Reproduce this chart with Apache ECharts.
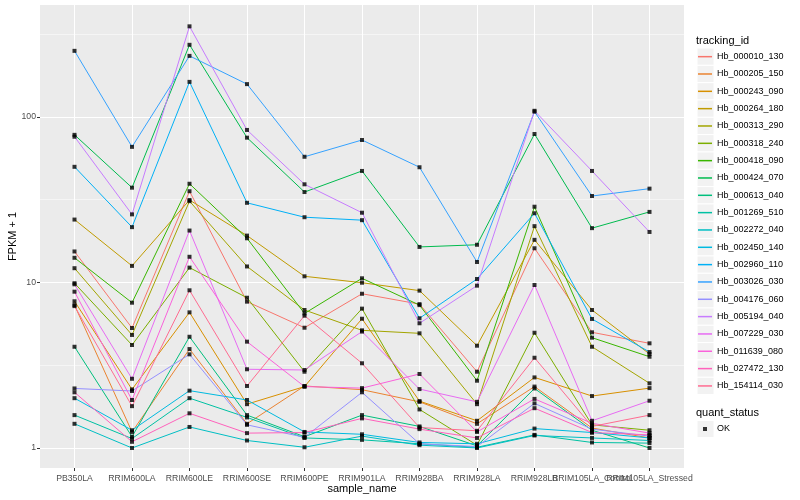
<!DOCTYPE html>
<html>
<head>
<meta charset="utf-8">
<script src="https://cdn.jsdelivr.net/npm/echarts@6/dist/echarts.min.js"></script>
<style>
html,body{margin:0;padding:0;background:#fff;}
#chart{width:800px;height:500px;}
</style>
</head>
<body>
<div id="chart"></div>
<script>
// ---- data ----
const categories = ['PB350LA','RRIM600LA','RRIM600LE','RRIM600SE','RRIM600PE','RRIM901LA','RRIM928BA','RRIM928LA','RRIM928LB','RRIM105LA_Control','RRIM105LA_Stressed'];

const Hb_000010_130 = [15.4, 5.31, 35.6, 7.66, 5.33, 8.55, 7.4, 2.89, 16.1, 5.0, 4.29];
const Hb_000205_150 = [7.3, 1.25, 3.96, 1.40, 2.37, 2.25, 1.90, 1.40, 2.35, 1.32, 1.15];
const Hb_000243_090 = [7.7, 2.26, 6.6, 1.84, 2.35, 6.04, 1.92, 1.46, 2.67, 2.06, 2.30];
const Hb_000264_180 = [24, 12.6, 31.5, 19.2, 10.9, 9.97, 8.93, 4.15, 18.1, 6.82, 3.70];
const Hb_000313_290 = [12.2, 4.82, 31.0, 12.5, 6.82, 5.14, 4.93, 1.84, 21.9, 4.09, 2.46];
const Hb_000318_240 = [9.9, 4.19, 12.3, 8.09, 2.89, 6.95, 1.71, 1.04, 4.97, 1.38, 1.28];
const Hb_000418_090 = [14.1, 7.55, 39.5, 18.5, 6.5, 10.6, 7.3, 2.55, 28.7, 4.64, 3.56];
const Hb_000424_070 = [78, 37.4, 273, 75, 35.2, 47.2, 16.4, 16.9, 78.9, 21.3, 26.7];
const Hb_000613_040 = [4.09, 1.17, 4.70, 1.58, 1.17, 1.58, 1.35, 1.03, 2.29, 1.28, 1.00];
const Hb_001269_510 = [1.58, 1.14, 2.0, 1.53, 1.15, 1.12, 1.06, 1.01, 1.20, 1.08, 1.07];
const Hb_002272_040 = [1.40, 1.00, 1.34, 1.11, 1.01, 1.18, 1.04, 1.00, 1.19, 1.15, 1.11];
const Hb_002450_140 = [2.0, 1.28, 2.22, 1.95, 1.25, 1.21, 1.08, 1.06, 1.31, 1.24, 1.15];
const Hb_002960_110 = [50, 21.6, 163, 30.3, 24.8, 23.8, 6.08, 10.5, 26.2, 6.02, 3.80];
const Hb_003026_030 = [251, 66, 234, 158, 57.5, 72.6, 49.7, 13.3, 107.7, 33.3, 36.9];
const Hb_004176_060 = [2.29, 2.21, 3.68, 1.38, 1.16, 2.17, 1.06, 1.02, 1.86, 1.30, 1.18];
const Hb_005194_040 = [76, 25.8, 353, 83.5, 39.2, 26.4, 5.67, 9.57, 109, 47.2, 20.2];
const Hb_007229_030 = [9.75, 2.62, 20.6, 2.99, 2.96, 5.05, 2.27, 1.90, 9.66, 1.46, 1.93];
const Hb_011639_080 = [8.8, 1.95, 14.3, 4.39, 2.35, 2.30, 2.80, 1.25, 1.98, 1.41, 1.23];
const Hb_027472_130 = [2.17, 1.09, 1.62, 1.23, 1.24, 1.51, 1.30, 1.15, 1.74, 1.24, 1.20];
const Hb_154114_030 = [7.2, 1.79, 8.97, 2.37, 6.3, 3.25, 1.33, 1.27, 3.51, 1.35, 1.58];

const trackingIds = ['Hb_000010_130','Hb_000205_150','Hb_000243_090','Hb_000264_180','Hb_000313_290','Hb_000318_240','Hb_000418_090','Hb_000424_070','Hb_000613_040','Hb_001269_510','Hb_002272_040','Hb_002450_140','Hb_002960_110','Hb_003026_030','Hb_004176_060','Hb_005194_040','Hb_007229_030','Hb_011639_080','Hb_027472_130','Hb_154114_030'];
const seriesValues = [Hb_000010_130,Hb_000205_150,Hb_000243_090,Hb_000264_180,Hb_000313_290,Hb_000318_240,Hb_000418_090,Hb_000424_070,Hb_000613_040,Hb_001269_510,Hb_002272_040,Hb_002450_140,Hb_002960_110,Hb_003026_030,Hb_004176_060,Hb_005194_040,Hb_007229_030,Hb_011639_080,Hb_027472_130,Hb_154114_030];
const colors = ['#F8766D','#EA8331','#D89000','#C09B00','#A3A500','#7CAE00','#39B600','#00BB4E','#00BF7D','#00C1A3','#00BFC4','#00BAE0','#00B0F6','#35A2FF','#9590FF','#C77CFF','#E76BF3','#FA62DB','#FF62BC','#FF6C91'];
const quantStatus = ['OK'];

const yTickValues = [1, 10, 100];
const yMinorValues = [3.1623, 31.623, 316.23];
const xTickValues = categories.map((c, i) => i);
const xLabelsEven = xTickValues.filter(i => i % 2 === 0);
const xLabelsOdd = xTickValues.filter(i => i % 2 === 1);

// ---- chart ----
const chart = echarts.init(document.getElementById('chart'), null, {renderer: 'canvas'});
const font = 'Liberation Sans, Arial, Helvetica, sans-serif';

const lineSeries = trackingIds.map((id, k) => ({
  name: id,
  type: 'line',
  data: seriesValues[k].map((v, i) => [i, v]),
  showSymbol: false,
  symbol: 'none',
  lineStyle: {width: 1, color: colors[k]},
  itemStyle: {color: colors[k]},
  z: 3
}));

const pointData = [];
seriesValues.forEach(arr => arr.forEach((v, i) => pointData.push([i, v])));

const keyRects = trackingIds.map((id, i) => ({
  type: 'rect',
  shape: {x: 697, y: 48 + i * 17.33, width: 17, height: 17.33},
  style: {fill: '#F2F2F2', stroke: '#FFFFFF', lineWidth: 1},
  z: -1
}));
keyRects.push({
  type: 'rect',
  shape: {x: 697, y: 420.5, width: 17, height: 17},
  style: {fill: '#F2F2F2', stroke: '#FFFFFF', lineWidth: 1},
  z: -1
});

const xLabelStyle = {margin: 6, fontSize: 8.7, color: '#4D4D4D', fontFamily: font,
  showMinLabel: true, showMaxLabel: true, hideOverlap: false,
  formatter: v => categories[Math.round(v)]};

chart.setOption({
  animation: false,
  backgroundColor: '#FFFFFF',
  textStyle: {fontFamily: font},
  grid: {left: 40, right: 116, top: 5, bottom: 32, show: true, backgroundColor: '#EBEBEB', borderWidth: 0,
    containLabel: false, outerBoundsMode: 'none'},
  title: [
    {text: 'tracking_id', left: 696, top: 35, padding: 0, textStyle: {fontSize: 11, fontWeight: 'normal', color: '#000', fontFamily: font}},
    {text: 'quant_status', left: 696, top: 407, padding: 0, textStyle: {fontSize: 11, fontWeight: 'normal', color: '#000', fontFamily: font}}
  ],
  legend: [
    {
      data: trackingIds, orient: 'vertical', left: 698, top: 48, padding: 0, itemGap: 0,
      itemWidth: 14, itemHeight: 1.5, icon: 'rect', selectedMode: false,
      textStyle: {fontSize: 9, lineHeight: 17.33, color: '#000', fontFamily: font}
    },
    {
      data: quantStatus, orient: 'vertical', left: 703, top: 420.5, padding: 0, itemGap: 0,
      itemWidth: 4, itemHeight: 4, icon: 'rect', selectedMode: false,
      itemStyle: {color: '#000'},
      textStyle: {fontSize: 9, lineHeight: 17, color: '#000', fontFamily: font, padding: [0, 0, 0, 5]}
    }
  ],
  graphic: keyRects,
  xAxis: [
    {
      type: 'value', min: -0.6, max: 10.6, position: 'bottom',
      name: 'sample_name', nameLocation: 'middle', nameGap: 15.5, nameMoveOverlap: false,
      nameTextStyle: {fontSize: 11, color: '#000', fontFamily: font},
      axisLine: {show: false, onZero: false},
      axisTick: {show: true, length: 3, lineStyle: {color: '#333333', width: 1}, customValues: xTickValues},
      axisLabel: Object.assign({customValues: xLabelsEven}, xLabelStyle),
      splitLine: {show: true, lineStyle: {color: '#FFFFFF', width: 1}}
    },
    {
      type: 'value', min: -0.6, max: 10.6, position: 'bottom', offset: 0,
      axisLine: {show: false, onZero: false},
      axisTick: {show: false, customValues: xLabelsOdd},
      axisLabel: Object.assign({customValues: xLabelsOdd}, xLabelStyle),
      splitLine: {show: false}
    }
  ],
  yAxis: [
    {
      type: 'log', logBase: 10, min: 0.757, max: 475, position: 'left',
      name: 'FPKM + 1', nameLocation: 'middle', nameGap: 22, nameRotate: 90, nameMoveOverlap: false,
      nameTextStyle: {fontSize: 11, color: '#000', fontFamily: font},
      axisLine: {show: false, onZero: false},
      axisTick: {show: true, length: 3, lineStyle: {color: '#333333', width: 1}, customValues: yTickValues},
      axisLabel: {customValues: yTickValues, margin: 4, fontSize: 8.7, color: '#4D4D4D', fontFamily: font,
        formatter: v => String(Math.round(v))},
      splitLine: {show: true, lineStyle: {color: '#FFFFFF', width: 1}}
    },
    {
      type: 'log', logBase: 10, min: 0.757, max: 475, position: 'left', offset: 0,
      axisLine: {show: false, onZero: false},
      axisTick: {show: false, customValues: yMinorValues},
      axisLabel: {show: false, customValues: yMinorValues},
      splitLine: {show: true, lineStyle: {color: '#FFFFFF', width: 0.5}}
    }
  ],
  series: lineSeries.concat([{
    name: 'OK', type: 'scatter', data: pointData, symbol: 'rect', symbolSize: 4,
    itemStyle: {color: '#000'}, z: 5
  }])
});
</script>
</body>
</html>
